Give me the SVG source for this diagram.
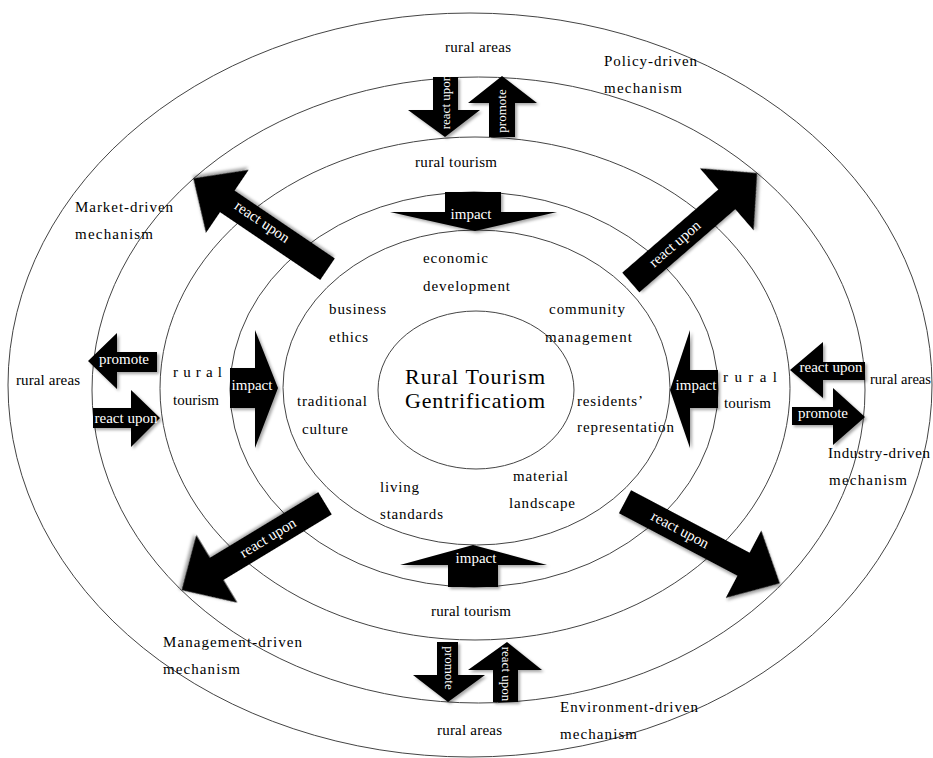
<svg xmlns="http://www.w3.org/2000/svg" width="933" height="758" viewBox="0 0 933 758">
<defs>
<filter id="sh" x="-20%" y="-20%" width="140%" height="140%">
<feDropShadow dx="2" dy="2" stdDeviation="1.5" flood-color="#000" flood-opacity="0.35"/>
</filter>
<style>
.ring{fill:none;stroke:#444;stroke-width:1}
.arr{fill:#000;filter:url(#sh)}
.lb{font-family:"Liberation Serif","Times New Roman",serif;font-size:15px;fill:#000}
.big{font-family:"Liberation Serif","Times New Roman",serif;font-size:22px;fill:#000}
.at{font-family:"Liberation Serif","Times New Roman",serif;font-size:15px;fill:#fff;text-anchor:middle}
.vt{font-family:"Liberation Serif","Times New Roman",serif;font-size:13px;fill:#fff;text-anchor:middle}
</style>
</defs>
<rect width="933" height="758" fill="#fff"/>
<g id="rings">
<ellipse class="ring" cx="470" cy="385" rx="462" ry="372"/>
<ellipse class="ring" cx="478.5" cy="390" rx="386.5" ry="313"/>
<ellipse class="ring" cx="475" cy="388.5" rx="315" ry="251.5"/>
<ellipse class="ring" cx="474" cy="389.5" rx="244" ry="197.5"/>
<ellipse class="ring" cx="476.5" cy="387.5" rx="193.5" ry="157.5"/>
</g>
<g id="core">
<ellipse class="ring" cx="476" cy="390" rx="98" ry="79"/>
<text class="big" x="405" y="384" textLength="140" lengthAdjust="spacing">Rural Tourism</text>
<text class="big" x="405" y="408" textLength="140" lengthAdjust="spacing">Gentrificatiom</text>
</g>
<g id="connectors">
<polygon class="arr" points="433,77 458,77 458,110 480,110 445,137 408,110 433,110"/>
<polygon class="arr" points="502,76 537,103 515,103 515,137 489,137 489,103 468,103"/>
<polygon class="arr" points="445,192 501,192 501,212 557,212 475,231 390,212 445,212"/>
<polygon class="arr" points="473,545 547,565 498,565 498,587 448,587 448,565 400,565"/>
<polygon class="arr" points="437,642 458,642 458,675 485,675 448,702 413,675 437,675"/>
<polygon class="arr" points="507,642 542,670 518,670 518,702 493,702 493,670 468,670"/>
<polygon class="arr" points="88,361 117,333 117,352 157,352 157,372 117,372 117,389"/>
<polygon class="arr" points="93,408 131,408 131,390 160,418 131,447 131,428 93,428"/>
<polygon class="arr" points="230,368 255,368 255,330 278,388 255,448 255,408 230,408"/>
<polygon class="arr" points="670,390 690,330 690,370 718,370 718,408 690,408 690,448"/>
<polygon class="arr" points="790,370 823,342 823,362 865,362 865,380 823,380 823,398"/>
<polygon class="arr" points="792,407 833,407 833,388 865,417 833,445 833,425 792,425"/>
<polygon class="arr" transform="translate(327.5,269.2) rotate(-145.9)" points="0,-13 121,-13 121,-38 162,0 121,38 121,13 0,13"/>
<polygon class="arr" transform="translate(630.8,282.5) rotate(-40.9)" points="0,-13 127,-13 127,-41 167,0 127,41 127,13 0,13"/>
<polygon class="arr" transform="translate(325,503.3) rotate(148.8)" points="0,-13 126.5,-13 126.5,-39.5 167.5,0 126.5,39.5 126.5,13 0,13"/>
<polygon class="arr" transform="translate(625,501.7) rotate(27.8)" points="0,-13 134,-13 134,-38 175,0 134,38 134,13 0,13"/>
<text class="vt" transform="translate(445,102) rotate(-90)" x="0" y="4.5">react upon</text>
<text class="vt" transform="translate(501,111) rotate(-90)" x="0" y="4.5">promote</text>
<text class="vt" transform="translate(449,668) rotate(90)" x="0" y="4.5">promote</text>
<text class="vt" transform="translate(506,674) rotate(90)" x="0" y="4.5">react upon</text>
<text class="at" x="471" y="219">impact</text>
<text class="at" x="476" y="563">impact</text>
<text class="at" x="124" y="364">promote</text>
<text class="at" x="126" y="423">react upon</text>
<text class="at" x="252" y="390">impact</text>
<text class="at" x="696" y="390">impact</text>
<text class="at" x="831" y="372">react upon</text>
<text class="at" x="823" y="418">promote</text>
<text class="at" transform="translate(262,222) rotate(34.1)" x="0" y="4.5">react upon</text>
<text class="at" transform="translate(675,244) rotate(-40.9)" x="0" y="4.5">react upon</text>
<text class="at" transform="translate(268,538) rotate(-31.2)" x="0" y="4.5">react upon</text>
<text class="at" transform="translate(680,530) rotate(27.8)" x="0" y="4.5">react upon</text>
</g>
<g id="ring-labels">
<text class="lb" x="445" y="52" textLength="66" lengthAdjust="spacing">rural areas</text>
<text class="lb" x="415" y="167" textLength="82" lengthAdjust="spacing">rural tourism</text>
<text class="lb" x="16" y="385" textLength="64" lengthAdjust="spacing">rural areas</text>
<text class="lb" x="173" y="377" textLength="49" lengthAdjust="spacing">r u r a l</text>
<text class="lb" x="173" y="405" textLength="46" lengthAdjust="spacing">tourism</text>
<text class="lb" x="723" y="382" textLength="54" lengthAdjust="spacing">r u r a l</text>
<text class="lb" x="724" y="408" textLength="47" lengthAdjust="spacing">tourism</text>
<text class="lb" x="870" y="384" textLength="61" lengthAdjust="spacingAndGlyphs">rural areas</text>
<text class="lb" x="431" y="616" textLength="80" lengthAdjust="spacing">rural tourism</text>
<text class="lb" x="437" y="735" textLength="65" lengthAdjust="spacing">rural areas</text>
</g>
<g id="mechanisms">
<text class="lb" x="604" y="66" textLength="93" lengthAdjust="spacing">Policy-driven</text>
<text class="lb" x="604" y="93" textLength="78" lengthAdjust="spacing">mechanism</text>
<text class="lb" x="75" y="212" textLength="98" lengthAdjust="spacing">Market-driven</text>
<text class="lb" x="75" y="239" textLength="78" lengthAdjust="spacing">mechanism</text>
<text class="lb" x="828" y="458" textLength="102" lengthAdjust="spacing">Industry-driven</text>
<text class="lb" x="829" y="485" textLength="78" lengthAdjust="spacing">mechanism</text>
<text class="lb" x="163" y="647" textLength="139" lengthAdjust="spacing">Management-driven</text>
<text class="lb" x="163" y="674" textLength="77" lengthAdjust="spacing">mechanism</text>
<text class="lb" x="560" y="712" textLength="138" lengthAdjust="spacing">Environment-driven</text>
<text class="lb" x="560" y="739" textLength="77" lengthAdjust="spacing">mechanism</text>
</g>
<g id="dimensions">
<text class="lb" x="423" y="263" textLength="65" lengthAdjust="spacing">economic</text>
<text class="lb" x="423" y="291" textLength="87" lengthAdjust="spacing">development</text>
<text class="lb" x="329" y="314" textLength="57" lengthAdjust="spacing">business</text>
<text class="lb" x="329" y="342" textLength="39" lengthAdjust="spacing">ethics</text>
<text class="lb" x="549" y="314" textLength="76" lengthAdjust="spacing">community</text>
<text class="lb" x="545" y="342" textLength="87" lengthAdjust="spacing">management</text>
<text class="lb" x="297" y="406" textLength="70" lengthAdjust="spacing">traditional</text>
<text class="lb" x="302" y="434" textLength="46" lengthAdjust="spacing">culture</text>
<text class="lb" x="577" y="406" textLength="66" lengthAdjust="spacing">residents’</text>
<text class="lb" x="577" y="432" textLength="97" lengthAdjust="spacing">representation</text>
<text class="lb" x="513" y="481" textLength="55" lengthAdjust="spacing">material</text>
<text class="lb" x="509" y="508" textLength="66" lengthAdjust="spacing">landscape</text>
<text class="lb" x="380" y="492" textLength="39" lengthAdjust="spacing">living</text>
<text class="lb" x="380" y="519" textLength="63" lengthAdjust="spacing">standards</text>
</g>
</svg>
